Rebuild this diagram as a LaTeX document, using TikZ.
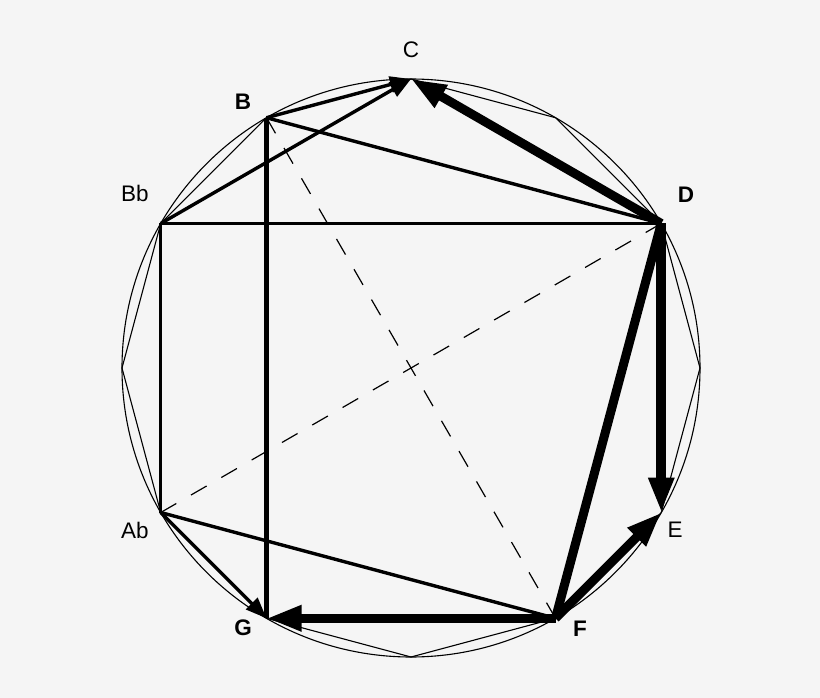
\documentclass[tikz,border=0pt]{standalone}
\usepackage{fontspec}
\setmainfont{Liberation Sans}
\usetikzlibrary{arrows.meta}
\definecolor{bg}{RGB}{245,245,245}
\begin{document}
\begin{tikzpicture}[x=1pt,y=-1pt,
  thinline/.style={line width=1.1pt},
  dashline/.style={line width=1.2pt, dash pattern=on 18pt off 17pt},
  medline/.style={line width=3.4pt},
  wideline/.style={line width=5pt},
  heavyline/.style={line width=9pt},
  medarrow/.style={medline,-{Triangle[length=21pt,width=16pt]}},
  bigarrow/.style={heavyline,-{Triangle[length=35pt,width=24pt]}},
  lab/.style={font=\fontsize{22.5}{22.5}\selectfont, inner sep=0pt},
  blab/.style={font=\fontsize{22.5}{22.5}\selectfont\bfseries, inner sep=0pt}]
\fill[bg] (0,0) rectangle (820,698);
\useasboundingbox (0,0) rectangle (820,698);
% vertices
\coordinate (O) at (411,368);
\coordinate (C)  at (411,79);
\coordinate (P60) at (555.5,117.72);
\coordinate (D)  at (661.28,223.5);
\coordinate (P0) at (700,368);
\coordinate (E)  at (661.28,512.5);
\coordinate (F)  at (555.5,618.28);
\coordinate (P270) at (411,657);
\coordinate (G)  at (266.5,618.28);
\coordinate (Ab) at (160.72,512.5);
\coordinate (P180) at (122,368);
\coordinate (Bb) at (160.72,223.5);
\coordinate (B)  at (266.5,117.72);
% circle and 12-gon
\draw[thinline] (O) circle (289);
\draw[thinline] (C) -- (P60) -- (D) -- (P0) -- (E) -- (F) -- (P270) -- (G) -- (Ab) -- (P180) -- (Bb) -- (B) -- cycle;
% dashed diagonals
\draw[dashline] (B) -- (F);
\draw[dashline] (Ab) -- (D);
% medium lines
\draw[medline] (B) -- (D);
\draw[medline] (Bb) -- (D);
\draw[medline] (Bb) -- (Ab);
\draw[wideline] (B) -- (G);
\draw[medline] (Ab) -- (F);
\draw[medarrow] (B) -- (C);
\draw[medarrow] (Bb) -- (C);
\draw[medarrow] (Ab) -- (G);
% heavy lines
\draw[heavyline] (F) -- (D);
\draw[bigarrow] (D) -- (C);
\draw[bigarrow, line width=10pt] (D) -- (E);
\draw[bigarrow] (F) -- (E);
\draw[bigarrow] (F) -- (G);
% labels
\node[lab]  (lC)  at (411,50)  {C};
\node[blab] (lB)  at (243,102) {B};
\node[lab]  (lBb) at (135,193) {Bb};
\node[blab] (lD)  at (686,195) {D};
\node[lab]  (lE)  at (675,530) {E};
\node[blab] (lF)  at (580,629) {F};
\node[blab] (lG)  at (243,628) {G};
\node[lab]  (lAb) at (135,530) {Ab};
\end{tikzpicture}
\end{document}
